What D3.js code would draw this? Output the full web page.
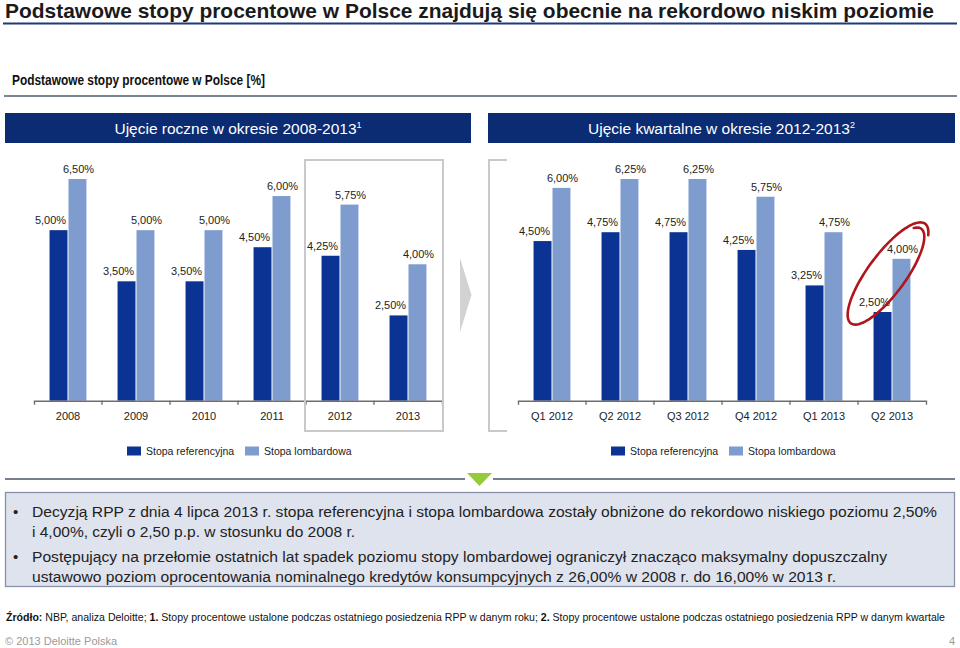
<!DOCTYPE html>
<html>
<head>
<meta charset="utf-8">
<script src="https://cdn.jsdelivr.net/npm/d3@7"></script>
<style>
  html, body { margin: 0; padding: 0; background: #fff; }
  svg { display: block; font-family: "Liberation Sans", Arial, sans-serif; }
</style>
</head>
<body>
<svg id="chart" width="960" height="648"></svg>
<script>
// ---------- data ----------
const years = ["2008", "2009", "2010", "2011", "2012", "2013"];
const refAnnual = [5.00, 3.50, 3.50, 4.50, 4.25, 2.50];
const lombAnnual = [6.50, 5.00, 5.00, 6.00, 5.75, 4.00];
const quarters = ["Q1 2012", "Q2 2012", "Q3 2012", "Q4 2012", "Q1 2013", "Q2 2013"];
const refQuarterly = [4.50, 4.75, 4.75, 4.25, 3.25, 2.50];
const lombQuarterly = [6.00, 6.25, 6.25, 5.75, 4.75, 4.00];
const seriesNames = ["Stopa referencyjna", "Stopa lombardowa"];
const highlightedYears = ["2012", "2013"];

const titleText = "Podstawowe stopy procentowe w Polsce znajdują się obecnie na rekordowo niskim poziomie";
const subtitleText = "Podstawowe stopy procentowe w Polsce [%]";
const headerLeft = ["Ujęcie roczne w okresie 2008-2013", "1"];
const headerRight = ["Ujęcie kwartalne w okresie 2012-2013", "2"];
const bulletLines = [
  ["Decyzją RPP z dnia 4 lipca 2013 r. stopa referencyjna i stopa lombardowa zostały obniżone do rekordowo niskiego poziomu 2,50%", "i 4,00%, czyli o 2,50 p.p. w stosunku do 2008 r."],
  ["Postępujący na przełomie ostatnich lat spadek poziomu stopy lombardowej ograniczył znacząco maksymalny dopuszczalny", "ustawowo poziom oprocentowania nominalnego kredytów konsumpcyjnych z 26,00% w 2008 r. do 16,00% w 2013 r."]
];
const sourceParts = [
  ["Źródło:", true], [" NBP, analiza Deloitte; ", false], ["1.", true],
  [" Stopy procentowe ustalone podczas ostatniego posiedzenia RPP w danym roku; ", false],
  ["2.", true], [" Stopy procentowe ustalone podczas ostatniego posiedzenia RPP w danym kwartale", false]
];

// ---------- style ----------
const C_DARK = "#0a3393";
const C_LIGHT = "#7f9ccf";
const C_HEADER = "#0b2b72";
const C_TEXT = "#222";

const svg = d3.select("#chart");
svg.append("rect").attr("width", 960).attr("height", 648).attr("fill", "#fff");

// Title
svg.append("text").attr("x", 5).attr("y", 17.5)
  .attr("font-size", 20.5).attr("font-weight", "bold").attr("fill", "#1a1a1a")
  .attr("textLength", 929).attr("lengthAdjust", "spacingAndGlyphs")
  .text(titleText);
svg.append("line").attr("x1", 3).attr("x2", 957).attr("y1", 23.5).attr("y2", 23.5)
  .attr("stroke", "#1f3a7a").attr("stroke-width", 2);

// Subtitle
svg.append("text").attr("x", 12).attr("y", 85)
  .attr("font-size", 14).attr("font-weight", "bold").attr("fill", "#111")
  .attr("textLength", 253).attr("lengthAdjust", "spacingAndGlyphs")
  .text(subtitleText);
svg.append("line").attr("x1", 4).attr("x2", 957).attr("y1", 96).attr("y2", 96)
  .attr("stroke", "#4f5a70").attr("stroke-width", 1.3);

// Header bars
function header(x, w, parts) {
  svg.append("rect").attr("x", x).attr("y", 113).attr("width", w).attr("height", 30)
    .attr("fill", C_HEADER);
  const t = svg.append("text").attr("x", x + w / 2).attr("y", 134)
    .attr("text-anchor", "middle").attr("font-size", 15.5).attr("fill", "#fff");
  t.append("tspan").text(parts[0]);
  t.append("tspan").attr("font-size", 9).attr("dy", -6).text(parts[1]);
}
header(5, 466, headerLeft);
header(488, 467, headerRight);

// ---------- charts ----------
const BASE = 400.7, TOP = 179;
const fmt = d3.formatLocale({ decimal: ",", thousands: " ", grouping: [3], currency: ["", ""] }).format(".2f");

function drawChart(cats, ref, lomb, xStart, xEnd, legendY) {
  const g = svg.append("g");
  const x0 = d3.scaleBand().domain(cats).range([xStart, xEnd]);
  const x1 = d3.scaleBand().domain(seriesNames).range([0, x0.bandwidth()])
    .paddingInner(0.053).paddingOuter(0.82);
  const y = d3.scaleLinear().domain([0, d3.max(lomb)]).range([BASE, TOP]);
  const rows = cats.map((c, i) => ({ cat: c, vals: [ref[i], lomb[i]] }));
  const colors = [C_DARK, C_LIGHT];
  const labelShift = [-8, 1];

  const grp = g.selectAll("g.cat").data(rows).join("g")
    .attr("transform", d => `translate(${x0(d.cat)},0)`);
  grp.selectAll("rect").data(d => d.vals.map((v, k) => ({ v, k })))
    .join("rect")
    .attr("x", d => x1(seriesNames[d.k]))
    .attr("width", x1.bandwidth())
    .attr("y", d => y(d.v))
    .attr("height", d => BASE - y(d.v))
    .attr("fill", d => colors[d.k]);
  grp.selectAll("text").data(d => d.vals.map((v, k) => ({ v, k })))
    .join("text")
    .attr("x", d => x1(seriesNames[d.k]) + x1.bandwidth() / 2 + labelShift[d.k])
    .attr("y", d => y(d.v) - 6)
    .attr("text-anchor", "middle").attr("font-size", 11).attr("fill", C_TEXT)
    .text(d => fmt(d.v) + "%");

  // axis
  const ax = g.append("g").attr("transform", `translate(0,${BASE})`)
    .call(d3.axisBottom(x0).tickSizeInner(0).tickSizeOuter(4).tickPadding(12));
  ax.select(".domain").attr("stroke", "#6e6e6e").attr("stroke-width", 1.4);
  ax.selectAll("text").attr("font-size", 11).attr("fill", C_TEXT)
    .attr("font-family", "Liberation Sans, Arial, sans-serif");
  g.selectAll("line.btick").data(cats.slice(1)).join("line").attr("class", "btick")
    .attr("x1", d => x0(d)).attr("x2", d => x0(d))
    .attr("y1", BASE).attr("y2", BASE + 4)
    .attr("stroke", "#6e6e6e").attr("stroke-width", 1.4);

  // legend
  const mid = (xStart + xEnd) / 2;
  const lg = g.append("g").attr("transform", `translate(${mid - 111},${legendY})`);
  const offs = [0, 118];
  seriesNames.forEach((s, k) => {
    lg.append("rect").attr("x", offs[k]).attr("y", -4.5).attr("width", 14).attr("height", 9)
      .attr("fill", colors[k]);
    lg.append("text").attr("x", offs[k] + 19).attr("y", 4).attr("font-size", 10.5)
      .attr("fill", C_TEXT).text(s);
  });
  return { x0, y };
}

const left = drawChart(years, refAnnual, lombAnnual, 34, 442, 451);
const right = drawChart(quarters, refQuarterly, lombQuarterly, 518, 926, 451);

// highlight box around 2012-2013
const hx0 = left.x0(highlightedYears[0]) - 1;
const hx1 = left.x0(highlightedYears[highlightedYears.length - 1]) + left.x0.bandwidth() + 1;
svg.append("rect").attr("x", hx0).attr("y", 160).attr("width", hx1 - hx0).attr("height", 271)
  .attr("fill", "none").attr("stroke", "#c9c9c9").attr("stroke-width", 2);
// bracket on right chart
const bx = right.x0(quarters[0]) - 29;
svg.append("path")
  .attr("d", `M${bx + 18},160 H${bx} V431 H${bx + 18}`)
  .attr("fill", "none").attr("stroke", "#c9c9c9").attr("stroke-width", 2);
// grey arrow
svg.append("path").attr("d", "M460,258 L471.5,295 L460,332 Z").attr("fill", "#d2d2d2");

// red ellipse around last quarter
(function () {
  const last = quarters[quarters.length - 1];
  const cx = right.x0(last) + right.x0.bandwidth() / 2 - 5;
  const cy = right.y(3.55);
  const a = 60, b = 19, th = -53.6 * Math.PI / 180;
  const pts = [];
  const N = 120, t0 = -0.35, sweep = 2 * Math.PI + 0.85;
  for (let i = 0; i <= N; i++) {
    const f = i / N;
    const t = t0 + sweep * f;
    const k = 0.95 + 0.12 * f;
    const u = a * k * Math.cos(t), v = b * k * Math.sin(t);
    pts.push([cx + u * Math.cos(th) - v * Math.sin(th), cy + u * Math.sin(th) + v * Math.cos(th)]);
  }
  svg.append("path").attr("d", d3.line().curve(d3.curveBasis)(pts))
    .attr("fill", "none").attr("stroke", "#b0141c").attr("stroke-width", 2.6)
    .attr("stroke-linecap", "round");
})();

// separator with green triangle
svg.append("line").attr("x1", 5).attr("x2", 465).attr("y1", 479).attr("y2", 479)
  .attr("stroke", "#4a5366").attr("stroke-width", 1.5);
svg.append("line").attr("x1", 493).attr("x2", 955).attr("y1", 479).attr("y2", 479)
  .attr("stroke", "#4a5366").attr("stroke-width", 1.5);
svg.append("path").attr("d", "M467,473 L492,473 L479.5,486 Z").attr("fill", "#97c93d");

// bullet box
svg.append("rect").attr("x", 5.5).attr("y", 492.5).attr("width", 949).attr("height", 94)
  .attr("fill", "#dfe3ee").attr("stroke", "#8792aa").attr("stroke-width", 1.3);
const lineY = [[517, 536.5], [562, 581.5]];
const lineW = [[905, 323], [855, 804]];
bulletLines.forEach((lines, i) => {
  svg.append("text").attr("x", 13).attr("y", lineY[i][0]).attr("font-size", 15)
    .attr("fill", C_TEXT).text("•");
  lines.forEach((ln, j) => {
    svg.append("text").attr("x", 32).attr("y", lineY[i][j]).attr("font-size", 15.5)
      .attr("fill", C_TEXT)
      .attr("textLength", lineW[i][j]).attr("lengthAdjust", "spacingAndGlyphs")
      .text(ln);
  });
});

// source
const src = svg.append("text").attr("x", 6).attr("y", 621).attr("font-size", 10.5)
  .attr("fill", "#111").attr("textLength", 939).attr("lengthAdjust", "spacingAndGlyphs");
sourceParts.forEach(p => src.append("tspan").attr("font-weight", p[1] ? "bold" : "normal").text(p[0]));

// footer
svg.append("text").attr("x", 5).attr("y", 645).attr("font-size", 11).attr("fill", "#9a9a9a")
  .text("© 2013 Deloitte Polska");
svg.append("text").attr("x", 955).attr("y", 645).attr("font-size", 11).attr("fill", "#9a9a9a")
  .attr("text-anchor", "end").text("4");
</script>
</body>
</html>
